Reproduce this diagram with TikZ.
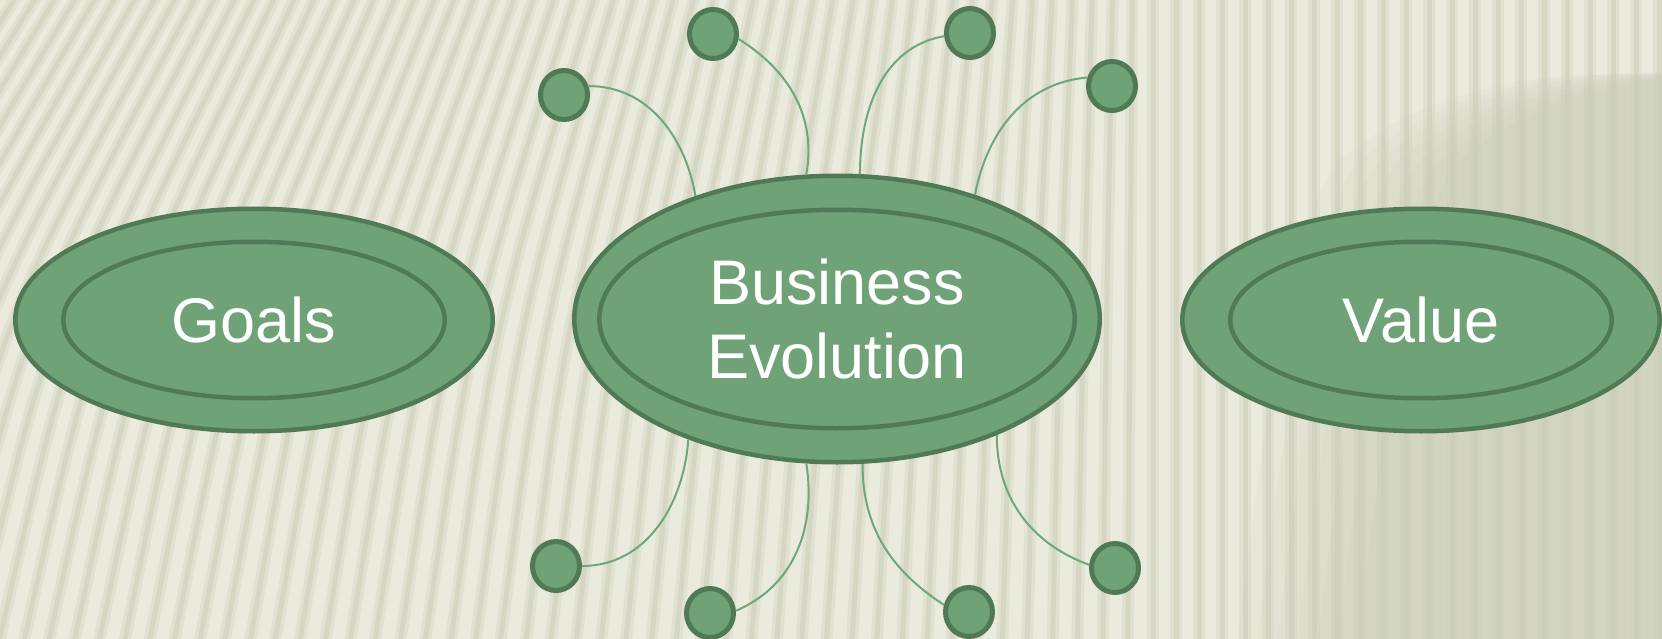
\documentclass[tikz,border=0pt]{standalone}
\usepackage{fontspec}
\setmainfont{Liberation Sans}
\usetikzlibrary{shapes.geometric}
\definecolor{bgc}{HTML}{EBEBDD}
\definecolor{stripec}{HTML}{C9CCB5}
\definecolor{shadec}{HTML}{BFC3A8}
\definecolor{gfill}{HTML}{6FA377}
\definecolor{gline}{HTML}{4F7A55}
\definecolor{conn}{HTML}{6DA878}
\begin{document}
\begin{tikzpicture}[x=1pt,y=1pt,
  bigout/.style={ellipse, draw=gline, fill=gfill, line width=4.5pt, inner sep=0pt},
  bigin/.style={ellipse, draw=gline, fill=gfill, line width=4.5pt, inner sep=0pt,
    text=white, font=\fontsize{63}{74}\selectfont, align=center},
  dot/.style={ellipse, draw=gline, fill=gfill, line width=5pt,
    minimum width=47pt, minimum height=49pt, inner sep=0pt},
  link/.style={draw=conn, line width=2pt},
  stripesoft/.style={draw=stripec, line width=12pt, opacity=0.3},
  stripecore/.style={draw=stripec, line width=5pt, opacity=0.45},
  shadelayer/.style={fill=shadec, opacity=0.09}]
\useasboundingbox (0,-639) rectangle (1662,0);
% background
\begin{scope}
\clip (0,-639) rectangle (1662,0);
\fill[bgc] (0,-639) rectangle (1662,0);
\foreach \d in {0,20,...,120} {
  \begin{scope}[xshift=\d pt]
  \fill[shadelayer] (1800,-66) -- (1560,-76) .. controls (1470,-86) and (1400,-110) .. (1340,-160)
     .. controls (1290,-220) and (1270,-380) .. (1230,-700) -- (1800,-700) -- cycle;
  \end{scope}
}
\foreach \i in {0,...,95} {
  \pgfmathsetmacro\xm{-250+23*\i}
  \pgfmathsetmacro\f{max(0,1-\xm/1150)}
  \pgfmathsetmacro\st{0.55*\f}
  \pgfmathsetmacro\sb{0.25*\f}
  \pgfmathsetmacro\sm{(\st+\sb)/2}
  \pgfmathsetmacro\k{(\st-\sb)/639}
  \pgfmathsetmacro\q{\k*330*330/2}
  \pgfmathsetmacro\xb{\xm-\sm*330+\q}
  \pgfmathsetmacro\xt{\xm+\sm*330+\q}
  \pgfmathsetmacro\xc{\xb+(\sm-\k*330)*330}
  \draw[stripesoft] (\xb,-650) .. controls (\xc,-320) .. (\xt,10);
  \draw[stripecore] (\xb,-650) .. controls (\xc,-320) .. (\xt,10);
}
\end{scope}
% main ellipses
\node[bigout, minimum width=477.5pt, minimum height=222.5pt] (goalsO) at (254,-320) {};
\node[bigin, minimum width=381.5pt, minimum height=156.5pt] (goals) at (254,-320) {Goals};
\node[bigout, minimum width=525.5pt, minimum height=286.5pt] (be) at (837,-319) {};
\node[bigin, minimum width=475.5pt, minimum height=218.5pt] (beI) at (837,-319) {Business\\Evolution};
\node[bigout, minimum width=477.5pt, minimum height=222.5pt] (valueO) at (1421,-320) {};
\node[bigin, minimum width=381.5pt, minimum height=156.5pt] (value) at (1421,-320) {Value};
% small dots
\node[dot] (a) at (564,-95) {};
\node[dot] (b) at (713,-34) {};
\node[dot] (c) at (970,-33) {};
\node[dot] (d) at (1112,-86) {};
\node[dot] (e) at (556,-566) {};
\node[dot] (f) at (710,-613) {};
\node[dot] (g) at (969,-612) {};
\node[dot] (h) at (1115,-568) {};
% connectors
\draw[link] (a.20) to[out=0,in=100] (be.139);
\draw[link] (b.-11) to[out=-32,in=80] (be.102);
\draw[link] (c.187) to[out=190,in=90] (be.81);
\draw[link] (d.161) to[out=185,in=79] (be.42);
\draw[link] (e.0) to[out=0,in=266] (be.219);
\draw[link] (f.5) to[out=23,in=279] (be.258);
\draw[link] (g.164) to[out=147,in=270] (be.280);
\draw[link] (h.173) to[out=160,in=270] (be.324);
\end{tikzpicture}
\end{document}
